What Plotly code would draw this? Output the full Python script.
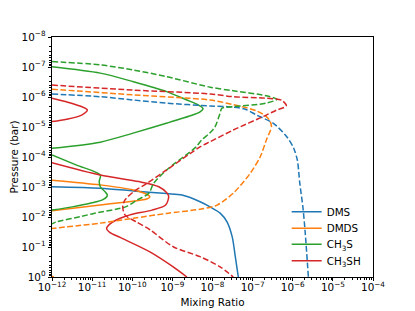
import plotly.graph_objects as go

# ---------------- data (mixing ratio, pressure in bar) ----------------
# DMS
dms_solid_x = [1.0e-12, 1.6e-11, 1.07e-10, 7.2e-10, 1.74e-9, 4.9e-9, 8.7e-9, 1.55e-8, 2.3e-8, 3.1e-8, 3.7e-8, 4.4e-8]
dms_solid_p = [9.8e-4, 1.1e-3, 1.35e-3, 1.66e-3, 1.86e-3, 3.1e-3, 4.6e-3, 7.4e-3, 1.45e-2, 4.6e-2, 0.21, 1.0]
dms_dash_x = [1.0e-12, 1.6e-11, 1.07e-10, 7.2e-10, 8.7e-9, 2.3e-8, 6.3e-8, 1.26e-7, 3.3e-7, 7.1e-7, 1.05e-6, 1.3e-6,
              1.5e-6, 1.8e-6, 2.05e-6, 2.45e-6]
dms_dash_p = [7.9e-7, 9.8e-7, 1.26e-6, 1.6e-6, 2.0e-6, 2.1e-6, 2.5e-6, 4.0e-6, 7.6e-6, 2.1e-5, 5.0e-5, 1.26e-4,
              7.6e-4, 5.0e-3, 3.5e-2, 1.0]

# DMDS
dmds_solid_x = [1.0e-12, 1.6e-11, 1.07e-10, 2.3e-10, 2.75e-10, 2.3e-10, 6.3e-11, 1.6e-11, 1.0e-12,
                None, 1.0e-12, 1.1e-12]
dmds_solid_p = [5.9e-4, 8.5e-4, 1.26e-3, 1.74e-3, 2.1e-3, 2.5e-3, 3.2e-3, 4.0e-3, 6.2e-3,
                None, 0.93, 1.0]
dmds_dash_x = [1.0e-12, 1.07e-10, 8.7e-9, 3.3e-8, 1.26e-7, 2.2e-7, 2.7e-7, 2.95e-7, 2.2e-7, 1.55e-7,
               8.7e-8, 3.3e-8, 1.3e-8, 4.9e-9, 7.2e-10, 1.07e-10, 1.6e-11, 1.0e-12]
dmds_dash_p = [5.5e-7, 8.5e-7, 1.26e-6, 1.8e-6, 2.9e-6, 4.5e-6, 6.3e-6, 9.8e-6, 2.7e-5, 9.8e-5,
               3.5e-4, 1.6e-3, 4.0e-3, 5.5e-3, 7.6e-3, 1.1e-2, 1.6e-2, 2.4e-2]

# CH3S  (None separates branches where the profile drops below 1e-12)
ch3s_solid_x = [1.0e-12, 1.6e-11, 1.07e-10, 7.2e-10, 2.3e-9, 4.3e-9, 5.8e-9, 4.8e-9, 3.2e-9, 7.4e-10, 1.05e-10, 1.6e-11, 1.0e-12,
                None,
                1.0e-12, 4.1e-12, 1.6e-11, 1.5e-11, 1.6e-11, 2.1e-11, 2.4e-11, 1.9e-11, 8.9e-12, 3.2e-12, 1.0e-12]
ch3s_solid_p = [9.8e-8, 1.6e-7, 3.1e-7, 6.6e-7, 1.26e-6, 1.8e-6, 2.4e-6, 3.2e-6, 4.0e-6, 7.4e-6, 1.6e-5, 3.2e-5, 5.1e-5,
                None,
                8.5e-5, 1.86e-4, 4.0e-4, 6.6e-4, 9.8e-4, 1.45e-3, 1.86e-3, 2.6e-3, 3.5e-3, 4.6e-3, 5.9e-3]
ch3s_dash_x = [1.0e-12, 1.6e-11, 1.07e-10, 7.2e-10, 8.7e-9, 3.3e-8, 2.2e-7, 4.0e-7, 2.2e-7, 3.3e-8, 1.7e-8, 1.55e-8, 1.15e-8,
               8.5e-9, 5.4e-9, 3.9e-9, 2.95e-9, 7.2e-10, 3.4e-10, 2.6e-10, 1.3e-10, 6.8e-11, 1.1e-11, 5.0e-12, 1.3e-12, 1.0e-12]
ch3s_dash_p = [6.6e-8, 8.5e-8, 1.26e-7, 2.1e-7, 4.7e-7, 6.2e-7, 9.1e-7, 1.2e-6, 1.6e-6, 2.1e-6, 2.4e-6, 3.4e-6, 1.0e-5,
               1.6e-5, 2.7e-5, 4.6e-5, 6.3e-5, 2.7e-4, 7.6e-4, 1.6e-3, 2.75e-3, 4.6e-3, 7.6e-3, 9.8e-3, 1.45e-2, 1.7e-2]

# CH3SH
ch3sh_solid_x = [1.0e-12, 2.3e-12, 5.0e-12, 7.6e-12, 5.5e-12, 2.3e-12, 1.0e-12,
                 None,
                 1.0e-12, 1.6e-11, 1.45e-10, 4.6e-10, 7.4e-10, 8.1e-10, 6.8e-10, 3.1e-10, 1.0e-10, 6.3e-11,
                 4.0e-11, 2.8e-11, 2.3e-11, 2.8e-11, 5.0e-11, 2.75e-10, 1.05e-9, 2.3e-9]
ch3sh_solid_p = [1.1e-6, 1.45e-6, 2.0e-6, 2.7e-6, 4.0e-6, 5.5e-6, 6.6e-6,
                 None,
                 1.55e-4, 4.0e-4, 6.6e-4, 9.8e-4, 1.6e-3, 2.1e-3, 4.0e-3, 5.9e-3, 8.1e-3, 9.8e-3,
                 1.26e-2, 1.7e-2, 2.4e-2, 3.3e-2, 4.8e-2, 0.145, 0.46, 1.0]
ch3sh_dash_x = [1.0e-12, 1.07e-10, 8.7e-9, 3.3e-8, 2.2e-7, 5.4e-7, 6.9e-7, 4.0e-7, 2.2e-7, 3.3e-8, 8.7e-9, 4.9e-9,
                7.2e-10, 2.3e-10, 1.07e-10, 6.6e-11, 5.8e-11, 6.6e-11, 1.26e-10, 2.8e-10, 1.05e-9, 4.9e-9, 1.55e-8, 3.3e-8]
ch3sh_dash_p = [4.0e-7, 5.9e-7, 7.9e-7, 9.8e-7, 1.1e-6, 1.3e-6, 2.0e-6, 2.7e-6, 4.0e-6, 1.26e-5, 3.1e-5, 4.6e-5,
                2.7e-4, 7.6e-4, 1.45e-3, 2.7e-3, 4.6e-3, 8.5e-3, 1.45e-2, 2.7e-2, 9.8e-2, 0.21, 0.46, 1.0]

species = ["DMS", "DMDS", "CH<sub>3</sub>S", "CH<sub>3</sub>SH"]
colors = ["#1f77b4", "#ff7f0e", "#2ca02c", "#d62728"]
solid = [(dms_solid_x, dms_solid_p), (dmds_solid_x, dmds_solid_p),
         (ch3s_solid_x, ch3s_solid_p), (ch3sh_solid_x, ch3sh_solid_p)]
dashed = [(dms_dash_x, dms_dash_p), (dmds_dash_x, dmds_dash_p),
          (ch3s_dash_x, ch3s_dash_p), (ch3sh_dash_x, ch3sh_dash_p)]

x_tick_exp = list(range(-12, -3))
y_tick_exp = list(range(-8, 1))

FONT = "DejaVu Sans"
FS = 10.4
LW = 1.5
DASH = "5.8px,2.5px"
LEGEND_NAMES = ["legend", "legend2", "legend3", "legend4"]

fig = go.Figure()
for i, (name, col, (sx, sp)) in enumerate(zip(species, colors, solid)):
    fig.add_trace(go.Scatter(x=sx, y=sp, mode="lines", name=name, legend=LEGEND_NAMES[i],
                             line=dict(color=col, width=LW, shape="spline", smoothing=0.8),
                             connectgaps=False))
for name, col, (dx, dp) in zip(species, colors, dashed):
    fig.add_trace(go.Scatter(x=dx, y=dp, mode="lines", showlegend=False,
                             line=dict(color=col, width=LW, dash=DASH, shape="spline", smoothing=0.8)))


def sup(e):
    return "10<sup>" + ("\u2212" + str(-e) if e < 0 else str(e)) + "</sup>"


def minors(lo, hi):
    return [k * 10.0 ** n for n in range(lo, hi) for k in range(2, 10)]


axis_common = dict(
    type="log", showgrid=False, zeroline=False,
    showline=True, linecolor="black", linewidth=0.8, mirror=True,
    ticks="outside", ticklen=3.5, tickwidth=0.8, tickcolor="black",
    tickfont=dict(family=FONT, size=FS, color="black"),
    tickmode="array",
)

fig.update_xaxes(
    **axis_common,
    range=[-12, -4],
    tickvals=[10.0 ** e for e in x_tick_exp],
    ticktext=[sup(e) for e in x_tick_exp],
    ticklabelstandoff=-3,
    minor=dict(tickmode="array", tickvals=minors(-12, -4), ticks="outside",
               ticklen=2, tickwidth=0.6, tickcolor="black", showgrid=False),
    title=dict(text="Mixing Ratio", font=dict(family=FONT, size=FS, color="black"), standoff=6),
)
fig.update_yaxes(
    **axis_common,
    range=[0, -8],
    tickvals=[10.0 ** e for e in y_tick_exp],
    ticktext=[sup(e) for e in y_tick_exp],
    minor=dict(tickmode="array", tickvals=minors(-8, 0), ticks="outside",
               ticklen=2, tickwidth=0.6, tickcolor="black", showgrid=False),
    title=dict(text="Pressure (bar)", font=dict(family=FONT, size=FS, color="black"), standoff=4),
)

# page body has an 8px default margin: the figure is 8px smaller and margins shifted accordingly
legend_style = dict(xanchor="left", yanchor="middle", bgcolor="rgba(0,0,0,0)", borderwidth=0,
                    font=dict(family=FONT, size=FS, color="black"), itemwidth=30)
legend_y = [0.2721, 0.2029, 0.1363, 0.0679]
LEGEND_X = 0.731

fig.update_layout(
    width=407, height=303,
    margin=dict(l=44, r=42, t=29, b=34, autoexpand=False),
    paper_bgcolor="white", plot_bgcolor="white",
    font=dict(family=FONT, size=FS, color="black"),
    showlegend=True,
    legend=dict(x=LEGEND_X, y=legend_y[0], **legend_style),
    legend2=dict(x=LEGEND_X, y=legend_y[1], **legend_style),
    legend3=dict(x=LEGEND_X, y=legend_y[2], **legend_style),
    legend4=dict(x=LEGEND_X, y=legend_y[3], **legend_style),
)

fig.write_html("out.html")
